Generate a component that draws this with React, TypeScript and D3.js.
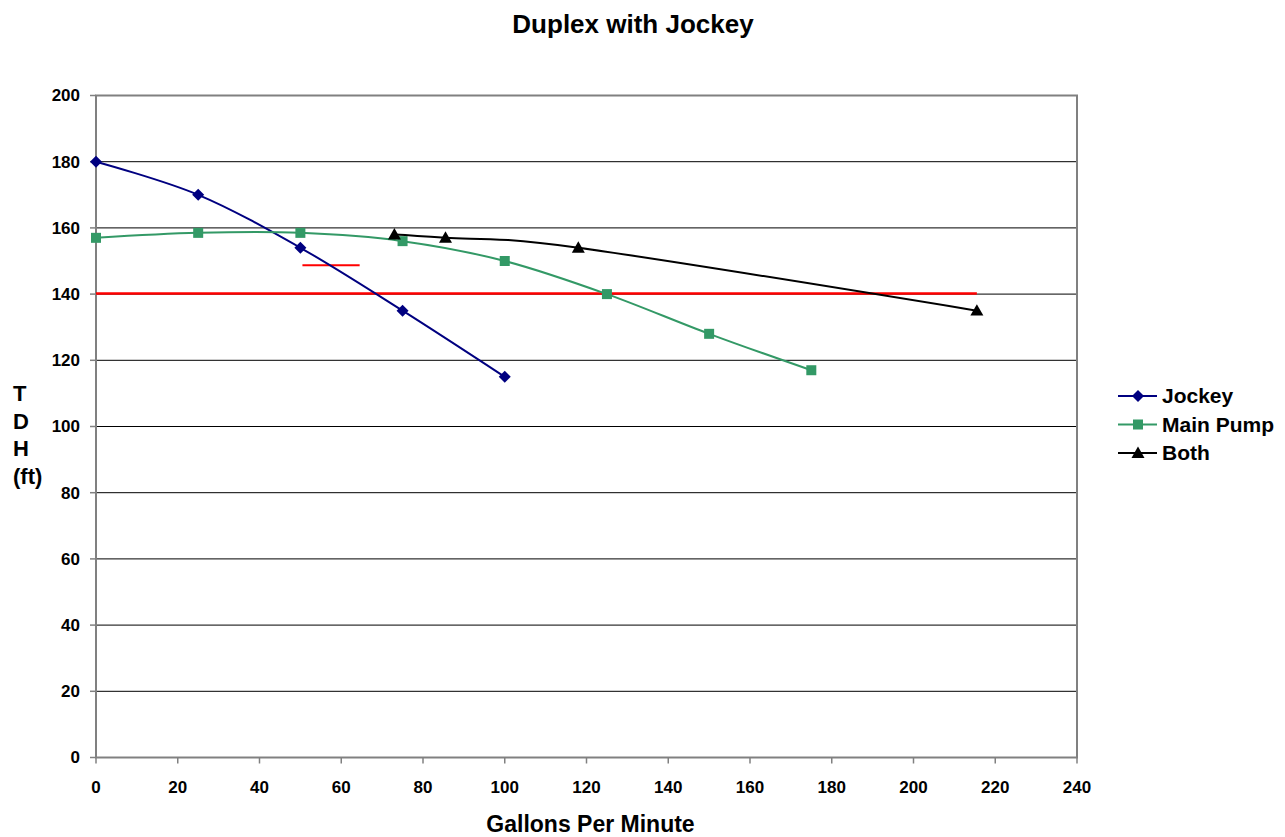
import React from 'react';
import * as d3 from 'd3';

const jockeyX = [0, 25, 50, 75, 100];
const jockeyY = [180, 170, 154, 135, 115];
const mainX = [0, 25, 50, 75, 100, 125, 150, 175];
const mainY = [157, 158.5, 158.5, 156, 150, 140, 128, 117];
const bothX = [73, 85.5, 118, 215.5];
const bothY = [158, 157, 154, 135];
const designLineX = [0, 215.5];
const designLineY = [140.2, 140.2];
const markLineX = [50.5, 64.5];
const markLineY = [148.7, 148.7];
const xTicks = [0, 20, 40, 60, 80, 100, 120, 140, 160, 180, 200, 220, 240];
const yTicks = [0, 20, 40, 60, 80, 100, 120, 140, 160, 180, 200];

const FONT = 'Arial, "Liberation Sans", sans-serif';

const W = 1285;
const H = 837;
const left = 96;
const right = 1077;
const top = 95.5;
const bottom = 757.5;

type Pt = [number, number];
const zip = (xs: number[], ys: number[]): Pt[] => xs.map((x, i) => [x, ys[i]]);

const series = [
  { name: 'Jockey', color: '#000080', pts: zip(jockeyX, jockeyY), marker: 'diamond' },
  { name: 'Main Pump', color: '#339966', pts: zip(mainX, mainY), marker: 'square' },
  { name: 'Both', color: '#000000', pts: zip(bothX, bothY), marker: 'triangle' },
];

function Marker({ kind, x, y, color }: { kind: string; x: number; y: number; color: string }) {
  if (kind === 'diamond') {
    const r = 6;
    return <path d={`M${x},${y - r}L${x + r},${y}L${x},${y + r}L${x - r},${y}Z`} fill={color} />;
  }
  if (kind === 'square') {
    const r = 5;
    return <rect x={x - r} y={y - r} width={2 * r} height={2 * r} fill={color} />;
  }
  const r = 6.5;
  return <path d={`M${x},${y - r}L${x + r},${y + r * 0.75}L${x - r},${y + r * 0.75}Z`} fill={color} />;
}

export default function App() {
  const x = d3.scaleLinear().domain([0, 240]).range([left, right]);
  const y = d3.scaleLinear().domain([0, 200]).range([bottom, top]);
  const smooth = d3
    .line<Pt>()
    .x((d) => x(d[0]))
    .y((d) => y(d[1]))
    .curve(d3.curveCardinal.tension(0));
  const straight = d3
    .line<Pt>()
    .x((d) => x(d[0]))
    .y((d) => y(d[1]));

  return (
    <svg width={W} height={H} style={{ position: 'absolute', left: 0, top: 0, background: '#fff' }}>
      <text x={633} y={33} textAnchor="middle" fontFamily={FONT} fontWeight="bold" fontSize={26}>
        Duplex with Jockey
      </text>

      {/* gridlines */}
      {yTicks.slice(1).map((t) => (
        <line key={t} x1={left} x2={right} y1={y(t)} y2={y(t)} stroke="#000" strokeWidth={1} />
      ))}
      {/* plot border */}
      <rect x={left} y={top} width={right - left} height={bottom - top} fill="none" stroke="#808080" strokeWidth={2} />

      {/* y axis ticks */}
      {yTicks.map((t) => (
        <g key={t}>
          <line x1={left - 6} x2={left} y1={y(t)} y2={y(t)} stroke="#808080" strokeWidth={1.5} />
          <text x={80} y={y(t)} dy="0.35em" textAnchor="end" fontFamily={FONT} fontWeight="bold" fontSize={17}>
            {t}
          </text>
        </g>
      ))}
      {/* x axis ticks */}
      {xTicks.map((t) => (
        <g key={t}>
          <line x1={x(t)} x2={x(t)} y1={bottom} y2={bottom + 6} stroke="#808080" strokeWidth={1.5} />
          <text x={x(t)} y={793} textAnchor="middle" fontFamily={FONT} fontWeight="bold" fontSize={17}>
            {t}
          </text>
        </g>
      ))}

      {/* axis titles */}
      <text x={590.5} y={832} textAnchor="middle" fontFamily={FONT} fontWeight="bold" fontSize={23}>
        Gallons Per Minute
      </text>
      <text fontFamily={FONT} fontWeight="bold" fontSize={22}>
        {['T', 'D', 'H', '(ft)'].map((s, i) => (
          <tspan key={s} x={13} y={401 + i * 27.5}>
            {s}
          </tspan>
        ))}
      </text>

      {/* red reference lines */}
      <path d={straight(zip(designLineX, designLineY)) ?? ''} stroke="#ff0000" strokeWidth={2.5} fill="none" />
      <path d={straight(zip(markLineX, markLineY)) ?? ''} stroke="#ff0000" strokeWidth={2} fill="none" />

      {/* series */}
      {series.map((s) => (
        <g key={s.name}>
          <path d={smooth(s.pts) ?? ''} stroke={s.color} strokeWidth={2} fill="none" />
          {s.pts.map((p, i) => (
            <Marker key={i} kind={s.marker} x={x(p[0])} y={y(p[1])} color={s.color} />
          ))}
        </g>
      ))}

      {/* legend */}
      {series.map((s, i) => {
        const ly = 396 + i * 28.5;
        return (
          <g key={s.name}>
            <line x1={1118} x2={1157} y1={ly} y2={ly} stroke={s.color} strokeWidth={2} />
            <Marker kind={s.marker} x={1138} y={ly} color={s.color} />
            <text x={1162} y={ly} dy="0.35em" fontFamily={FONT} fontWeight="bold" fontSize={21}>
              {s.name}
            </text>
          </g>
        );
      })}
    </svg>
  );
}
